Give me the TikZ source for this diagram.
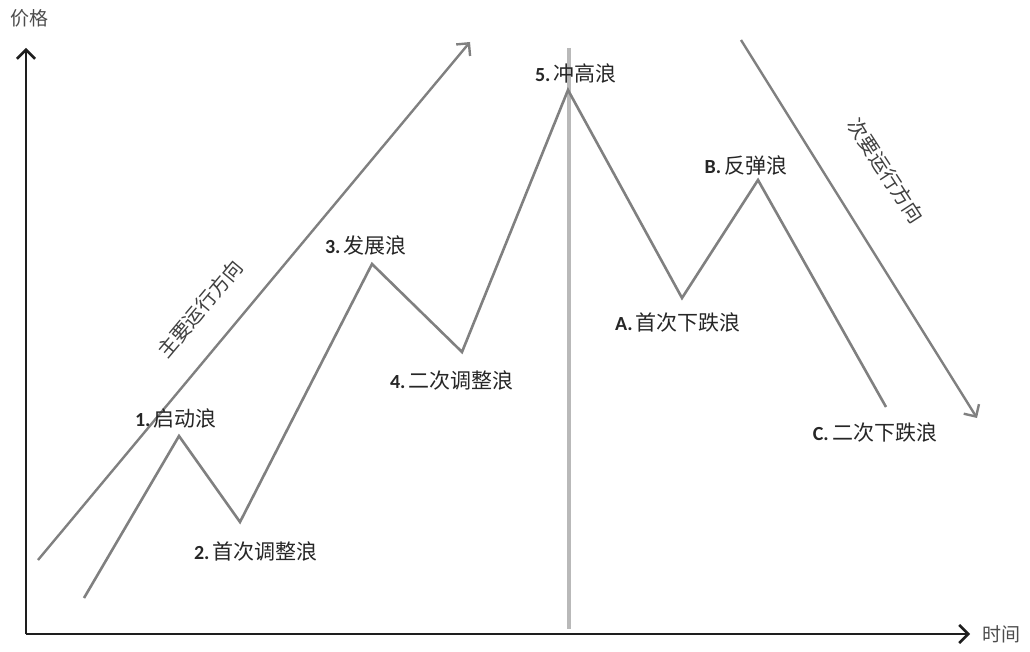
\documentclass[tikz,border=0pt]{standalone}
\usepackage{fontspec}
\setmainfont{Carlito}
\newfontfamily\cjk{Noto Sans CJK SC}
\usetikzlibrary{positioning,arrows.meta}
\definecolor{waveGray}{RGB}{128,128,128}
\definecolor{splitGray}{RGB}{185,185,185}
\definecolor{axisBlack}{RGB}{30,30,30}

\begin{document}
\begin{tikzpicture}[
    x=1pt, y=-1pt,
    axis line/.style={draw=axisBlack, line width=2.6pt, -{Straight Barb[length=9pt,width=18pt,line width=2.6pt]}},
    wave line/.style={draw=waveGray, line width=2.6pt, line join=miter},
    trend arrow/.style={draw=waveGray, line width=2.4pt, -{Straight Barb[length=9pt,width=18pt,line width=2.4pt]}},
    split line/.style={draw=splitGray, line width=3.5pt},
    wave label/.style={font=\fontsize{20}{20}\selectfont, inner sep=0pt, text=black!85},
    axis label/.style={font=\fontsize{19}{19}\selectfont\cjk, inner sep=0pt, text=black!70},
    trend label/.style={font=\fontsize{20}{20}\selectfont\cjk, inner sep=0pt, text=black!75}
]
  \useasboundingbox (0,0) rectangle (1030,652);

  % axes
  \coordinate (origin) at (26,634);
  \coordinate (ytop) at (26,48);
  \coordinate (xend) at (970,634);
  \draw[axis line] (origin) -- (ytop);
  \draw[axis line] (origin) -- (xend);
  \node[axis label] (price) at (29,18) {价格};
  \node[axis label] (time) at (1001,634) {时间};

  % split line at the top
  \coordinate (splittop) at (569,48);
  \coordinate (splitbot) at (569,629);
  \draw[split line] (splittop) -- (splitbot);

  % trend directions
  \coordinate (mainstart) at (38,560);
  \coordinate (mainend) at (470,42);
  \coordinate (minorstart) at (741,40);
  \coordinate (minorend) at (977,418);
  \draw[trend arrow] (mainstart) -- (mainend);
  \draw[trend arrow] (minorstart) -- (minorend);
  \node[trend label, rotate=50] (mainlabel) at (200,309) {主要运行方向};
  \node[trend label, rotate=-57] (minorlabel) at (886,171) {次要运行方向};

  % wave points
  \coordinate (w0) at (84,598);
  \coordinate (w1) at (179,436);
  \coordinate (w2) at (240,522);
  \coordinate (w3) at (372,264);
  \coordinate (w4) at (462,352);
  \coordinate (w5) at (568,90);
  \coordinate (wa) at (682,298);
  \coordinate (wb) at (758,180);
  \coordinate (wc) at (886,407);
  \draw[wave line] (w0) -- (w1) -- (w2) -- (w3) -- (w4) -- (w5) -- (wa) -- (wb) -- (wc);

  % wave labels
  \node[wave label] (l1) at (176,419) {\textbf{1.}\,\cjk\fontsize{21}{21}\selectfont 启动浪};
  \node[wave label] (l2) at (256,552) {\textbf{2.}\,\cjk\fontsize{21}{21}\selectfont 首次调整浪};
  \node[wave label] (l3) at (366,246) {\textbf{3.}\,\cjk\fontsize{21}{21}\selectfont 发展浪};
  \node[wave label] (l4) at (452,381) {\textbf{4.}\,\cjk\fontsize{21}{21}\selectfont 二次调整浪};
  \node[wave label] (l5) at (576,74) {\textbf{5.}\,\cjk\fontsize{21}{21}\selectfont 冲高浪};
  \node[wave label] (la) at (678,323) {\textbf{A.}\,\cjk\fontsize{21}{21}\selectfont 首次下跌浪};
  \node[wave label] (lb) at (746,166) {\textbf{B.}\,\cjk\fontsize{21}{21}\selectfont 反弹浪};
  \node[wave label] (lc) at (875,433) {\textbf{C.}\,\cjk\fontsize{21}{21}\selectfont 二次下跌浪};
\end{tikzpicture}
\end{document}
